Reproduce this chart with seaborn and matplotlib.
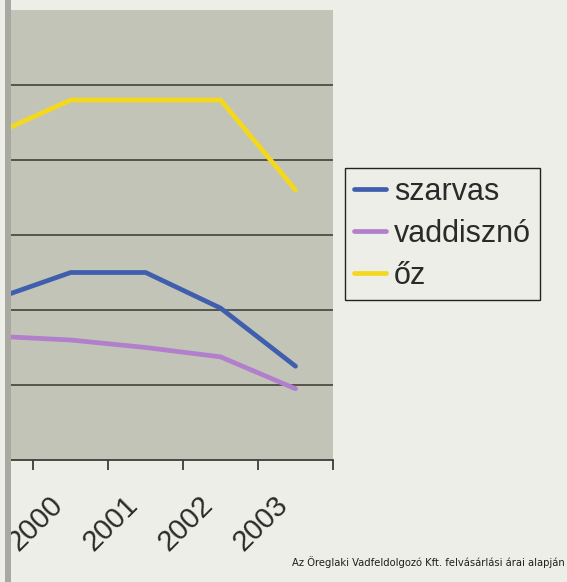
import matplotlib
matplotlib.use("Agg")
import matplotlib.pyplot as plt
import matplotlib.transforms as mtransforms
from matplotlib import font_manager
from matplotlib.lines import Line2D
from matplotlib.patches import Rectangle
import seaborn as sns
import pandas as pd

# ---- data (y axis labels are cut off, arbitrary price units) ----
years = ["1999", "2000", "2001", "2002", "2003"]
szarvas = [430, 500, 500, 405, 250]
vaddiszno = [330, 320, 300, 275, 190]
oz = [870, 960, 960, 960, 720]
series_names = ["szarvas", "vaddisznó", "őz"]
colors = ["#3F5FAE", "#B17FCB", "#F4D81E"]
caption = "Az Öreglaki Vadfeldolgozó Kft. felvásárlási árai alapján"

rows = []
for name, vals in zip(series_names, [szarvas, vaddiszno, oz]):
    for i, v in enumerate(vals):
        rows.append({"pos": i, "year": years[i], "ár": v, "faj": name})
df = pd.DataFrame(rows)

sns.set_theme(style="white")
plt.rcParams["font.family"] = ["Liberation Sans", "DejaVu Sans"]


def narrow_font_props():
    """Look for an installed narrow/condensed regular sans face."""
    best = None
    for f in font_manager.fontManager.ttflist:
        name = (f.name + " " + f.fname).lower()
        if ("narrow" in name or "condensed" in name) and f.style == "normal" \
                and f.weight in (400, "normal", "regular", 500, "medium") \
                and "mono" not in name and "serif" not in f.name.lower():
            score = 0 if "liberation" in name else (1 if "dejavu" in name else 2)
            if best is None or score < best[0]:
                best = (score, f.fname)
    if best:
        return font_manager.FontProperties(fname=best[1])
    return font_manager.FontProperties(family="Liberation Sans")


page = "#EEEEE8"
fig = plt.figure(figsize=(5.67, 5.82), dpi=100, facecolor=page)
W, H = 567, 582
ax = fig.add_axes([10 / W, 1 - 460 / H, 323 / W, 450 / H])
ax.set_facecolor("#C3C4B8")

sns.lineplot(data=df, x="pos", y="ár", hue="faj", hue_order=series_names,
             palette=colors, linewidth=3.4, ax=ax, legend=False, sort=True)
for ln in ax.lines:
    ln.set_solid_joinstyle("miter")

ax.set_xlim(0.19, 4.5)
ax.set_ylim(0, 1200)
ax.set_yticks([200, 400, 600, 800, 1000])
ax.yaxis.grid(True, color="#4C4C44", linewidth=1.3)
ax.xaxis.grid(False)
ax.tick_params(axis="y", left=False, labelleft=False)
ax.set_xticks([0.5, 1.5, 2.5, 3.5, 4.5])
ax.set_xticklabels([])
ax.tick_params(axis="x", bottom=True, direction="out", length=7, width=1.3, color="#3C3C3C")
ax.set_xlabel("")
ax.set_ylabel("")
for s in ["top", "right", "left"]:
    ax.spines[s].set_visible(False)
ax.spines["bottom"].set_color("#3C3C3C")
ax.spines["bottom"].set_linewidth(1.3)

# rotated year labels under each category centre
blend = mtransforms.blended_transform_factory(ax.transData, ax.transAxes)
off = mtransforms.ScaledTranslation(-22 / 100, -31 / 100, fig.dpi_scale_trans)
for i, y in enumerate(years):
    if i == 0:
        continue
    ax.text(i, 0, y, transform=blend + off, rotation=45, rotation_mode="anchor",
            ha="right", va="top", fontsize=21, color="#2A2A2A", clip_on=False)

# legend
handles = [Line2D([], [], color=c, linewidth=3.4) for c in colors]
leg = fig.legend(handles, series_names, loc="upper left",
                 bbox_to_anchor=(345 / W, 1 - 168 / H), fontsize=22,
                 frameon=True, fancybox=False, edgecolor="#222222",
                 facecolor=page, framealpha=1, handlelength=1.05,
                 handletextpad=0.25, labelspacing=0.39, borderpad=0.3,
                 borderaxespad=0)
leg.get_frame().set_linewidth(1.0)
for t in leg.get_texts():
    t.set_color("#2A2A2A")

# caption (narrow face if available), fitted to the reference width (~274 px)
cap = fig.text(565 / W, 1 - 562 / H, caption, ha="right", va="center",
               fontproperties=narrow_font_props(), color="#1E1E1E")
cap.set_fontsize(11)
fig.canvas.draw()
wpx = cap.get_window_extent().width
cap.set_fontsize(min(12, 11 * 274 / wpx))

# scanned page edge strip on the left
fig.patches.append(Rectangle((5 / W, 0), 6 / W, 1, transform=fig.transFigure,
                             facecolor="#A9A9A2", edgecolor="none", zorder=5))

fig.savefig("out.png", dpi=100, facecolor=page)
